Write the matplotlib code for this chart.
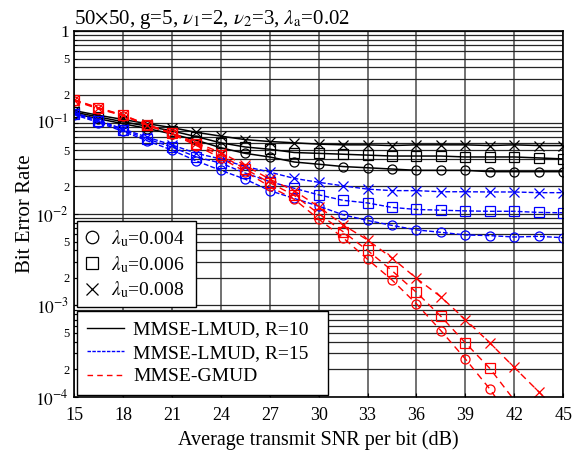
import matplotlib
matplotlib.use('Agg')
import matplotlib.pyplot as plt
from matplotlib.lines import Line2D
from matplotlib.ticker import FixedLocator, FixedFormatter

plt.rcParams['font.family'] = ['Liberation Serif', 'DejaVu Serif']
plt.rcParams['mathtext.fontset'] = 'stix'

# SNR points (dB)
snr = [15, 16.5, 18, 19.5, 21, 22.5, 24, 25.5, 27, 28.5, 30,
       31.5, 33, 34.5, 36, 37.5, 39, 40.5, 42, 43.5, 45]

# MMSE-LMUD, R=10
r10_004 = [0.125, 0.110, 0.097, 0.086, 0.075, 0.064, 0.053, 0.046, 0.042, 0.037, 0.035,
           0.033, 0.032, 0.031, 0.030, 0.030, 0.030, 0.029, 0.029, 0.029, 0.029]
r10_006 = [0.130, 0.115, 0.102, 0.091, 0.081, 0.070, 0.060, 0.054, 0.051, 0.047, 0.046,
           0.045, 0.044, 0.043, 0.043, 0.043, 0.042, 0.042, 0.042, 0.041, 0.040]
r10_008 = [0.135, 0.120, 0.108, 0.097, 0.088, 0.078, 0.071, 0.065, 0.062, 0.060, 0.058,
           0.057, 0.057, 0.056, 0.057, 0.057, 0.057, 0.056, 0.057, 0.056, 0.056]

# MMSE-LMUD, R=15
r15_004 = [0.122, 0.100, 0.080, 0.063, 0.050, 0.038, 0.030, 0.024, 0.018, 0.0148, 0.0122,
           0.0098, 0.0085, 0.0075, 0.0067, 0.0063, 0.0059, 0.0058, 0.0056, 0.0057, 0.0055]
r15_006 = [0.125, 0.103, 0.083, 0.066, 0.054, 0.042, 0.036, 0.028, 0.0226, 0.0191, 0.0162,
           0.0141, 0.0132, 0.0118, 0.0112, 0.0110, 0.0108, 0.0107, 0.0107, 0.0104, 0.0103]
r15_008 = [0.128, 0.106, 0.085, 0.069, 0.057, 0.046, 0.040, 0.033, 0.0287, 0.0245, 0.0222,
           0.0203, 0.0187, 0.0180, 0.0180, 0.0175, 0.0175, 0.0174, 0.0174, 0.0171, 0.0171]

# MMSE-GMUD
gm_004 = [0.173, 0.141, 0.119, 0.093, 0.075, 0.056, 0.041, 0.029, 0.020, 0.0145, 0.0088,
          0.0055, 0.0032, 0.0019, 0.00104, 0.00053, 0.00026, 0.000122, 0.00005]
gm_006 = [0.176, 0.143, 0.120, 0.094, 0.076, 0.058, 0.044, 0.031, 0.022, 0.016, 0.0101,
          0.0064, 0.0040, 0.0024, 0.00139, 0.00076, 0.00039, 0.000205, 0.000092]
gm_008 = [0.178, 0.145, 0.121, 0.095, 0.077, 0.060, 0.047, 0.034, 0.024, 0.018, 0.012,
          0.0076, 0.0052, 0.0033, 0.00198, 0.00124, 0.00070, 0.00039, 0.00021, 0.000114, 0.00006]

x_ticks = [15, 18, 21, 24, 27, 30, 33, 36, 39, 42, 45]
marker_labels = [r'$\lambda_{\mathrm{u}}$=0.004', r'$\lambda_{\mathrm{u}}$=0.006',
                 r'$\lambda_{\mathrm{u}}$=0.008']
method_labels = ['MMSE-LMUD, R=10', 'MMSE-LMUD, R=15', 'MMSE-GMUD']

YMIN = 1e-4

fig = plt.figure(figsize=(5.83, 4.5), dpi=100)
ax = fig.add_axes([0.127, 0.118, 0.839, 0.813])

markers = ['o', 's', 'x']
mk = dict(markersize=6.5, markerfacecolor='none', markeredgewidth=0.9)


def draw(y, m, **style):
    # markers only for points inside the visible range
    keep = [i for i, v in enumerate(y) if v >= YMIN]
    ax.plot(snr[:len(y)], y, marker=m, markevery=keep, **mk, **style)


for m, y in zip(markers, [r10_004, r10_006, r10_008]):
    draw(y, m, color='black', lw=1.1)
for m, y in zip(markers, [r15_004, r15_006, r15_008]):
    draw(y, m, color='#0000ff', lw=1.0, dashes=(3.5, 1.5))
for m, y in zip(markers, [gm_004, gm_006, gm_008]):
    draw(y, m, color='#ff0000', lw=1.0, dashes=(5, 3.5))

ax.set_yscale('log')
ax.set_xlim(15, 45)
ax.set_ylim(YMIN, 1)

ax.set_xticks(x_ticks)
ax.set_xticklabels([str(t) for t in x_ticks], fontsize=13)

major = [1e-4, 1e-3, 1e-2, 1e-1, 1]
ax.yaxis.set_major_locator(FixedLocator(major))
ax.yaxis.set_major_formatter(FixedFormatter([r'$10^{-4}$', r'$10^{-3}$', r'$10^{-2}$', r'$10^{-1}$', '1']))
minor = []
minor_lab = []
for d in [1e-4, 1e-3, 1e-2, 1e-1]:
    for k in range(2, 10):
        minor.append(k * d)
        minor_lab.append(str(k) if k in (2, 5) else '')
ax.yaxis.set_minor_locator(FixedLocator(minor))
ax.yaxis.set_minor_formatter(FixedFormatter(minor_lab))
ax.tick_params(axis='y', which='major', labelsize=12.5, direction='in', length=3)
ax.tick_params(axis='y', which='minor', labelsize=9, direction='in', length=2)
ax.tick_params(axis='x', direction='in', length=3, pad=7)

ax.grid(True, which='major', axis='x', color='0.35', lw=1.2)
ax.grid(True, which='both', axis='y', color='0.15', lw=0.9)
ax.set_axisbelow(True)
for s in ax.spines.values():
    s.set_linewidth(1.2)

ax.set_xlabel('Average transmit SNR per bit (dB)', fontsize=14.5, labelpad=5)
ax.set_ylabel('Bit Error Rate', fontsize=15, labelpad=0)
ax.set_title(r'50$\times$50, g=5, $\nu_1$=2, $\nu_2$=3, $\lambda_\mathrm{a}$=0.02',
             fontsize=15, loc='left', pad=3)

h1 = [Line2D([], [], color='black', ls='none', marker=m, markersize=9,
             markerfacecolor='none', markeredgewidth=0.9) for m in markers]
leg1 = ax.legend(h1, marker_labels, loc='lower left', bbox_to_anchor=(0.006, 0.246, 0.244, 0.234),
                 mode='expand', fontsize=14, frameon=True, fancybox=False, handlelength=0.8,
                 handletextpad=0.6, borderaxespad=0, labelspacing=0.25, borderpad=0.35)
leg1.get_frame().set_edgecolor('black')
leg1.get_frame().set_linewidth(1.0)
leg1.get_frame().set_alpha(1)
ax.add_artist(leg1)

h2 = [Line2D([], [], color='black', lw=1.0),
      Line2D([], [], color='#0000ff', lw=1.0, dashes=(2.5, 1)),
      Line2D([], [], color='#ff0000', lw=1.0, dashes=(4, 3))]
leg2 = ax.legend(h2, method_labels, loc='lower left', bbox_to_anchor=(0.006, 0.005, 0.514, 0.235),
                 mode='expand', fontsize=14, frameon=True, fancybox=False, handlelength=1.9,
                 handletextpad=0.5, borderaxespad=0, labelspacing=0.3, borderpad=0.5)
leg2.get_frame().set_edgecolor('black')
leg2.get_frame().set_linewidth(1.0)
leg2.get_frame().set_alpha(1)

fig.savefig('out.png', dpi=100)
